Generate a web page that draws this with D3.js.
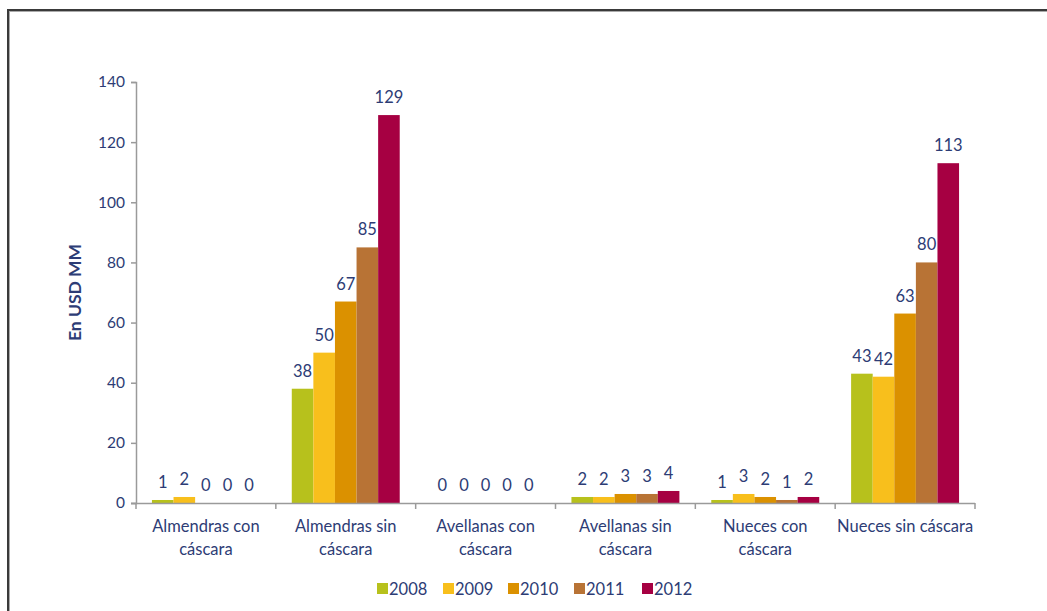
<!DOCTYPE html>
<html>
<head>
<meta charset="utf-8">
<script src="https://cdn.jsdelivr.net/npm/d3@7"></script>
<style>
  html, body { margin: 0; padding: 0; background: #fff; }
  svg text { font-family: Lato, "Open Sans", sans-serif; }
</style>
</head>
<body>
<svg id="chart" width="1047" height="611"></svg>
<script>
// Exportaciones por producto y año (USD MM)
const categories = [
  ["Almendras con", "cáscara"],
  ["Almendras sin", "cáscara"],
  ["Avellanas con", "cáscara"],
  ["Avellanas sin", "cáscara"],
  ["Nueces con", "cáscara"],
  ["Nueces sin cáscara"]
];
const years = ["2008", "2009", "2010", "2011", "2012"];
const values2008 = [1, 38, 0, 2, 1, 43];
const values2009 = [2, 50, 0, 2, 3, 42];
const values2010 = [0, 67, 0, 3, 2, 63];
const values2011 = [0, 85, 0, 3, 1, 80];
const values2012 = [0, 129, 0, 4, 2, 113];
const yTicks = [0, 20, 40, 60, 80, 100, 120, 140];
const colors = ["#b7c11c", "#f8bf1c", "#db9100", "#b87335", "#a60042"];

const series = [values2008, values2009, values2010, values2011, values2012];
const textColor = "#2d3c75";

const svg = d3.select("#chart");

// frame
svg.append("line").attr("x1", 8).attr("x2", 1047).attr("y1", 10).attr("y2", 10)
  .attr("stroke", "#3a3a3a").attr("stroke-width", 2);
svg.append("line").attr("x1", 8).attr("x2", 1047).attr("y1", 11.5).attr("y2", 11.5)
  .attr("stroke", "#aaa").attr("stroke-width", 1);
svg.append("line").attr("x1", 8).attr("x2", 8).attr("y1", 9).attr("y2", 611)
  .attr("stroke", "#3a3a3a").attr("stroke-width", 2);
svg.append("line").attr("x1", 9.5).attr("x2", 9.5).attr("y1", 11).attr("y2", 611)
  .attr("stroke", "#aaa").attr("stroke-width", 1);

const plotLeft = 136, plotRight = 975, plotTop = 82, plotBottom = 503;

const x0 = d3.scaleBand().domain(d3.range(categories.length))
  .range([plotLeft, plotRight]).paddingInner(0.228).paddingOuter(0.114);
const x1 = d3.scaleBand().domain(d3.range(years.length))
  .range([0, x0.bandwidth()]).padding(0);
const y = d3.scaleLinear().domain([0, 140]).range([plotBottom, plotTop]);

// y axis
const yAxis = svg.append("g").attr("transform", `translate(${plotLeft},0)`)
  .call(d3.axisLeft(y).tickValues(yTicks).tickSize(5).tickPadding(6));
yAxis.select(".domain").attr("stroke", "#9a9a9a").attr("stroke-width", 1.5);
yAxis.selectAll(".tick line").attr("stroke", "#9a9a9a").attr("stroke-width", 1.5);
yAxis.selectAll(".tick text").attr("fill", textColor).style("font-size", "15.5px");

svg.append("text")
  .attr("transform", `translate(81,${(plotTop + plotBottom) / 2}) rotate(-90)`)
  .attr("text-anchor", "middle")
  .attr("fill", textColor)
  .style("font-size", "17.5px").style("font-weight", "bold")
  .text("En USD MM");

// bars
const groups = svg.append("g").selectAll("g")
  .data(categories.map((c, i) => i))
  .join("g")
  .attr("transform", i => `translate(${x0(i)},0)`);

groups.selectAll("rect")
  .data(i => series.map((s, k) => ({ k, v: s[i] })))
  .join("rect")
  .attr("x", d => x1(d.k))
  .attr("width", x1.bandwidth())
  .attr("y", d => y(d.v))
  .attr("height", d => plotBottom - y(d.v))
  .attr("fill", d => colors[d.k]);

groups.selectAll("text.val")
  .data(i => series.map((s, k) => ({ k, v: s[i] })))
  .join("text")
  .attr("class", "val")
  .attr("x", d => x1(d.k) + x1.bandwidth() / 2)
  .attr("y", d => y(d.v) - 12)
  .attr("text-anchor", "middle")
  .attr("fill", textColor)
  .style("font-size", "16.5px")
  .text(d => d.v);

// x axis
const step = (plotRight - plotLeft) / categories.length;
svg.append("line").attr("x1", plotLeft - 5).attr("x2", plotRight).attr("y1", plotBottom + 0.5).attr("y2", plotBottom + 0.5)
  .attr("stroke", "#9a9a9a").attr("stroke-width", 1.5);
svg.append("g").selectAll("line")
  .data(d3.range(categories.length + 1))
  .join("line")
  .attr("x1", i => plotLeft + i * step).attr("x2", i => plotLeft + i * step)
  .attr("y1", plotBottom).attr("y2", plotBottom + 6)
  .attr("stroke", "#9a9a9a").attr("stroke-width", 1.5);

const catLabels = svg.append("g").selectAll("text")
  .data(categories)
  .join("text")
  .attr("text-anchor", "middle")
  .attr("fill", textColor)
  .style("font-size", "16.5px")
  .attr("transform", (c, i) => `translate(${x0(i) + x0.bandwidth() / 2},${plotBottom + 29})`);
catLabels.selectAll("tspan")
  .data(c => c)
  .join("tspan")
  .attr("x", 0)
  .attr("dy", (t, j) => j === 0 ? 0 : 23)
  .text(t => t);

// legend
const legendX = [377, 443, 508, 574, 642];
const legend = svg.append("g").selectAll("g")
  .data(years)
  .join("g")
  .attr("transform", (d, i) => `translate(${legendX[i]},583)`);
legend.append("rect").attr("width", 11).attr("height", 11).attr("fill", (d, i) => colors[i]);
legend.append("text").attr("x", 12).attr("y", 12)
  .attr("fill", textColor).style("font-size", "16.5px").text(d => d);
</script>
</body>
</html>
